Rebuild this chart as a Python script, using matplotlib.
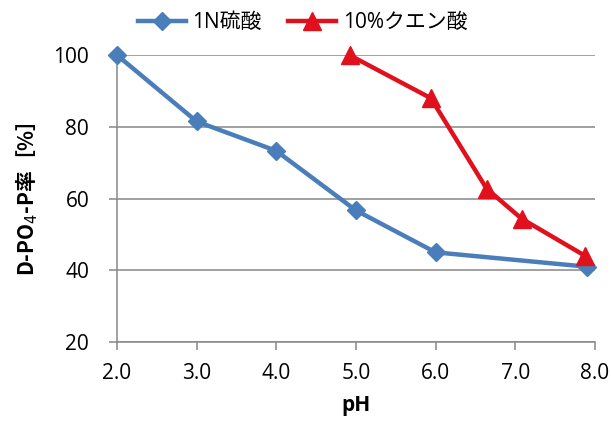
import matplotlib
matplotlib.use("Agg")
import matplotlib.pyplot as plt

plt.rcParams['font.family'] = ['Open Sans', 'Noto Sans CJK JP', 'DejaVu Sans']

# 1N sulfuric acid series
ph_h2so4 = [2.0, 3.0, 4.0, 5.0, 6.0, 7.9]
rate_h2so4 = [100, 81.5, 73.3, 56.7, 45.0, 41.0]

# 10% citric acid series
ph_citric = [4.92, 5.94, 6.64, 7.08, 7.88]
rate_citric = [100, 88.0, 62.8, 54.4, 44.0]

xticks = [2.0, 3.0, 4.0, 5.0, 6.0, 7.0, 8.0]
yticks = [20, 40, 60, 80, 100]

grey = '#888888'
blue = '#4a7ebb'
red = '#e0111d'

fig = plt.figure(figsize=(6.11, 4.34), dpi=100)
ax = fig.add_axes([0.1915, 0.212, 0.782, 0.661])

ax.plot(ph_h2so4, rate_h2so4, color=blue, lw=3.2, marker='D', markersize=9,
        label='1N硫酸', clip_on=False, zorder=3)
ax.plot(ph_citric, rate_citric, color=red, lw=3.2, marker='^', markersize=13,
        label='10%クエン酸', clip_on=False, zorder=4)

ax.set_xlim(2.0, 8.0)
ax.set_ylim(20, 100)
ax.set_xticks(xticks)
ax.set_xticklabels([f'{v:.1f}' for v in xticks])
ax.set_yticks(yticks)

ax.yaxis.grid(True, color=grey, lw=1.1)
ax.set_axisbelow(True)
for side in ('top', 'right'):
    ax.spines[side].set_visible(False)
for side in ('left', 'bottom'):
    ax.spines[side].set_color(grey)
    ax.spines[side].set_linewidth(1.1)
ax.tick_params(axis='both', colors=grey, length=6, width=1.1, labelsize=15,
               labelcolor='black', direction='out')
ax.tick_params(axis='x', pad=9)
ax.tick_params(axis='y', pad=14)

ax.set_xlabel('pH', fontsize=15, fontweight='bold', labelpad=8)
# mathtext only uses the first family, so give the label a CJK font
ax.set_ylabel('D-PO$_4$-P率［%］', fontsize=15, fontweight='bold', labelpad=10,
              family='Noto Sans CJK JP')

fig.legend(handles=ax.get_lines(), loc='center', bbox_to_anchor=(0.495, 0.948),
           ncol=2, frameon=False, fontsize=15, handlelength=2.3,
           columnspacing=1.3, handletextpad=0.3)

fig.savefig('out.png', dpi=100)
